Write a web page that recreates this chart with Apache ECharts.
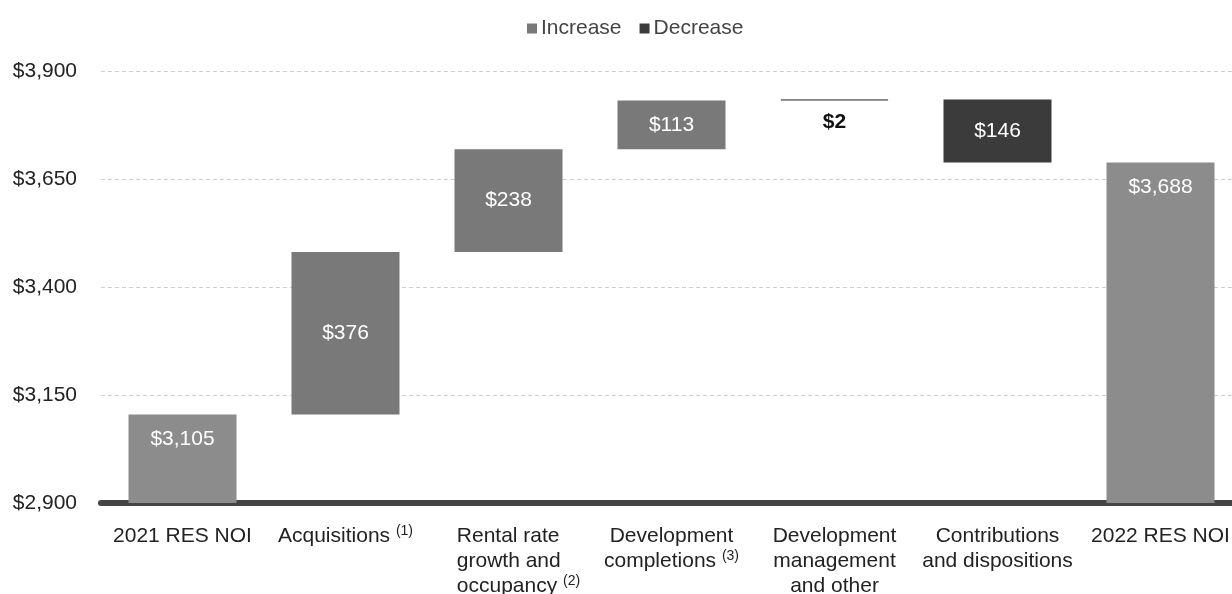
<!DOCTYPE html>
<html>
<head>
<meta charset="utf-8">
<script src="https://cdn.jsdelivr.net/npm/echarts@6/dist/echarts.min.js"></script>
<style>
  html, body { margin: 0; padding: 0; background: #fff; }
  #waterfallChart { width: 1232px; height: 594px; }
</style>
</head>
<body>
<div id="waterfallChart"></div>
<script>
// chart data
const categories = [
  '2021 RES NOI',
  'Acquisitions {sup|(1)}',
  '{l|Rental rate}\n{l|growth and}\n{l|occupancy }{supl|(2)}',
  'Development\ncompletions {sup|(3)}',
  'Development\nmanagement\nand other',
  'Contributions\nand dispositions',
  '2022 RES NOI',
];
const startTotal = 3105;
const endTotal = 3688;
const changes = [376, 238, 113, 2, -146];
const yTicks = [2900, 3150, 3400, 3650, 3900];

// build the stacked series (invisible base + visible pieces)
const base = ['-'];
const totals = [startTotal];
const increase = ['-'];
const decrease = ['-'];
let running = startTotal;
changes.forEach((c) => {
  const next = running + c;
  base.push(Math.min(running, next));
  totals.push('-');
  increase.push(c > 0 ? c : '-');
  decrease.push(c < 0 ? -c : '-');
  running = next;
});
base.push('-');
totals.push(endTotal);
increase.push('-');
decrease.push('-');

const money = (v) => '$' + Number(v).toLocaleString('en-US');
const font = 'Liberation Sans, Arial, sans-serif';

// the left-aligned label's footnote hangs out to the right
const categoryItems = categories.map((c) => (c.indexOf('{l|') === 0
  ? { value: c, textStyle: { padding: [0, 0, 0, 20] } }
  : c));

const myChart = echarts.init(document.getElementById('waterfallChart'));
const option = {
  animation: false,
  textStyle: { fontFamily: font },
  legend: {
    data: ['Increase', 'Decrease'],
    top: 13,
    left: 522,
    icon: 'rect',
    itemWidth: 10,
    itemHeight: 10,
    itemGap: 18,
    textStyle: { fontSize: 21, color: '#444', padding: [0, 0, 0, -1] },
  },
  // plot area runs a little past the right edge, as in the original
  grid: { left: 101, top: 71, width: 1141, height: 432, outerBoundsMode: 'none' },
  xAxis: {
    type: 'category',
    data: categoryItems,
    axisLine: { lineStyle: { color: '#444', width: 6 } },
    axisTick: { show: false },
    axisLabel: {
      interval: 0,
      margin: 21,
      fontSize: 21,
      lineHeight: 25,
      color: '#222',
      rich: {
        sup: { fontSize: 14, lineHeight: 14, verticalAlign: 'top', color: '#222' },
        l: { fontSize: 21, lineHeight: 25, align: 'left', color: '#222' },
        supl: { fontSize: 14, lineHeight: 14, verticalAlign: 'top', align: 'left', color: '#222' },
      },
    },
  },
  yAxis: {
    type: 'value',
    min: yTicks[0],
    max: yTicks[yTicks.length - 1],
    interval: yTicks[1] - yTicks[0],
    axisLine: { show: false },
    axisTick: { show: false },
    splitLine: { lineStyle: { color: '#cfcfcf', type: [4, 3], width: 1 } },
    axisLabel: {
      margin: 24,
      fontSize: 21,
      color: '#222',
      formatter: money,
    },
  },
  series: [
    {
      name: 'base',
      type: 'bar',
      stack: 'wf',
      barWidth: 108,
      itemStyle: { color: 'transparent' },
      emphasis: { disabled: true },
      data: base,
    },
    {
      name: 'Total',
      type: 'bar',
      stack: 'wf',
      barWidth: 108,
      itemStyle: { color: '#8c8c8c' },
      label: {
        show: true,
        position: 'insideTop',
        distance: 14,
        color: '#fff',
        fontSize: 21,
        formatter: (p) => money(p.value),
      },
      data: totals,
    },
    {
      name: 'Increase',
      type: 'bar',
      stack: 'wf',
      barWidth: 108,
      itemStyle: { color: '#797979' },
      label: {
        show: true,
        position: 'inside',
        color: '#fff',
        fontSize: 21,
        formatter: (p) => money(p.value),
      },
      // tiny bars: keep the sliver visible and put the label below it
      data: increase.map((v) => (v !== '-' && v < 10
        ? {
          value: v,
          itemStyle: { borderColor: '#6a6a6a', borderWidth: 1 },
          label: { position: 'bottom', distance: 11, color: '#111', fontWeight: 'bold' },
        }
        : v)),
    },
    {
      name: 'Decrease',
      type: 'bar',
      stack: 'wf',
      barWidth: 108,
      itemStyle: { color: '#3b3b3b' },
      label: {
        show: true,
        position: 'inside',
        color: '#fff',
        fontSize: 21,
        formatter: (p) => money(p.value),
      },
      data: decrease,
    },
  ],
};
myChart.setOption(option);
</script>
</body>
</html>
